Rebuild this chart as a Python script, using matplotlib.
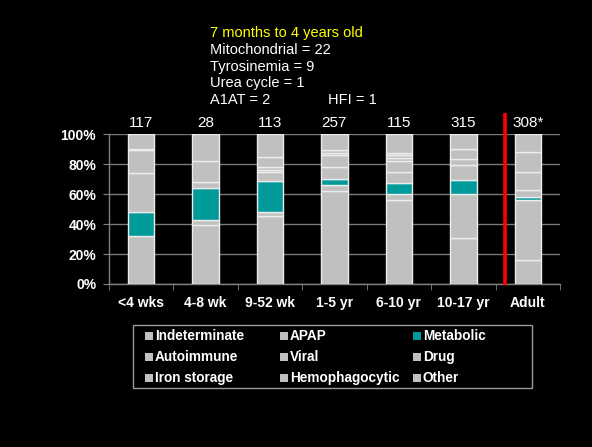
import numpy as np
import matplotlib.pyplot as plt
from matplotlib.patches import Rectangle

plt.rcParams['font.family'] = ['Liberation Sans', 'DejaVu Sans']

# age groups and number of cases per group
groups = ["<4 wks", "4-8 wk", "9-52 wk", "1-5 yr", "6-10 yr", "10-17 yr", "Adult"]
counts = ["117", "28", "113", "257", "115", "315", "308*"]

# diagnosis categories, stacked bottom to top
causes = ["Indeterminate", "APAP", "Metabolic", "Autoimmune", "Viral",
          "Drug", "Iron storage", "Hemophagocytic", "Other"]

# percent of cases per category (one list per category, one value per age group)
indeterminate  = [32.4, 39.3, 45.2, 62.4, 55.9, 30.6, 16.1]
apap           = [0.0, 3.6, 3.0, 4.0, 4.6, 29.8, 40.1]
metabolic      = [15.7, 21.4, 20.5, 4.1, 7.0, 9.4, 1.7]
autoimmune     = [0.0, 3.6, 6.0, 7.8, 7.4, 10.1, 5.2]
viral          = [26.2, 14.3, 1.6, 7.8, 7.2, 4.0, 11.6]
drug           = [0.0, 0.0, 1.8, 1.6, 2.2, 6.7, 13.4]
iron_storage   = [15.3, 0.0, 0.0, 0.0, 1.8, 0.0, 0.0]
hemophagocytic = [1.0, 0.0, 6.7, 2.2, 1.6, 0.0, 0.0]
other          = [9.4, 17.8, 15.2, 10.1, 12.3, 9.4, 11.9]

series = [indeterminate, apap, metabolic, autoimmune, viral,
          drug, iron_storage, hemophagocytic, other]

GRAY = "#c0c0c0"
TEAL = "#009a9a"
colors = [TEAL if c == "Metabolic" else GRAY for c in causes]

# notes printed above the chart
note_title = "7 months to 4 years old"
note_lines = ["Mitochondrial = 22", "Tyrosinemia = 9", "Urea cycle = 1", "A1AT = 2"]
note_extra = "HFI = 1"

W, H = 592, 447
fig = plt.figure(figsize=(W / 100, H / 100), dpi=100)
fig.patch.set_facecolor("black")
ax = fig.add_axes([0.1836, 0.3647, 0.7625, 0.3345])
ax.set_facecolor("black")

x = np.arange(len(groups))
bottom = np.zeros(len(groups))
for vals, col in zip(series, colors):
    vals = np.array(vals)
    mask = vals > 0
    ax.bar(x[mask], vals[mask], bottom=bottom[mask], width=0.41,
           color=col, edgecolor="#ececec", linewidth=1.0, zorder=3)
    bottom += vals

# case counts above each bar
for xi, n in zip(x, counts):
    ax.text(xi, 105.3, n, ha="center", va="baseline", color="white",
            fontsize=11, clip_on=False)

# red separator between pediatric and adult groups
ax.plot([5.65, 5.65], [-0.5, 114.5], color="#ff0000", lw=2.6,
        clip_on=False, zorder=4, solid_capstyle="butt")

ax.set_xlim(-0.5, len(groups) - 0.5)
ax.set_ylim(0, 100)
ax.set_yticks(np.arange(0, 101, 20))
ax.set_yticklabels([f"{v}%" for v in range(0, 101, 20)],
                   fontsize=10, fontweight="bold", color="white")
ax.set_xticks(x)
ax.set_xticklabels(groups, fontsize=10, fontweight="bold", color="white")
ax.set_xticks(np.arange(-0.5, len(groups), 1.0), minor=True)
ax.tick_params(axis="x", which="major", length=0, pad=9)
ax.tick_params(axis="x", which="minor", length=4, color="#808080", direction="out")
ax.tick_params(axis="y", length=4, color="#808080", pad=5)
ax.yaxis.grid(True, color="#7a7a7a", linewidth=1, zorder=0)
ax.set_axisbelow(True)
for s in ["top", "right"]:
    ax.spines[s].set_visible(False)
for s in ["left", "bottom"]:
    ax.spines[s].set_color("#808080")
    ax.spines[s].set_linewidth(1)

# legend box, 3 columns filled row by row
fig.add_artist(Rectangle((133 / W, 1 - 388 / H), 399 / W, 63 / H,
                         transform=fig.transFigure, facecolor="black",
                         edgecolor="#9a9a9a", linewidth=1))
col_x = [145, 280, 413]
row_y = [336, 357, 378]
for i, (name, col) in enumerate(zip(causes, colors)):
    cx, cy = col_x[i % 3], row_y[i // 3]
    fig.add_artist(Rectangle((cx / W, 1 - (cy + 4) / H), 8 / W, 8 / H,
                             transform=fig.transFigure, facecolor=col,
                             edgecolor="none"))
    fig.text((cx + 10) / W, 1 - cy / H, name, color="white", fontsize=9.8,
             fontweight="bold", va="center")

# notes
fig.text(210 / W, 1 - 37 / H, note_title, color="#ffff00", fontsize=10.5,
         va="baseline")
for i, line in enumerate(note_lines):
    fig.text(210 / W, 1 - (54 + 16.7 * i) / H, line, color="white",
             fontsize=10.5, va="baseline")
fig.text(328 / W, 1 - (54 + 16.7 * 3) / H, note_extra, color="white",
         fontsize=10.5, va="baseline")

fig.savefig("out.png", dpi=100, facecolor="black")
